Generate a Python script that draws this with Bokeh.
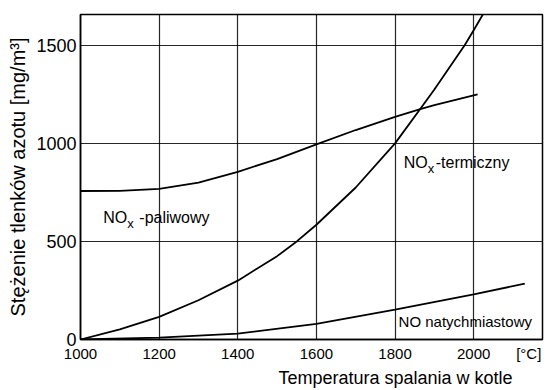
from bokeh.plotting import figure
from bokeh.models import Range1d, FixedTicker, Title
from bokeh.embed import file_html
from bokeh.resources import INLINE
from bokeh.core.properties import value

# ---- data ----
temp_thermal = [1000, 1100, 1200, 1300, 1400, 1500, 1550, 1600, 1700, 1800, 1864, 1900, 1977, 2000, 2030]
nox_thermal = [0, 52, 115, 200, 300, 425, 500, 585, 775, 1000, 1175, 1275, 1500, 1577, 1680]

temp_fuel = [1000, 1100, 1200, 1300, 1400, 1500, 1600, 1700, 1800, 1864, 1900, 2010]
nox_fuel = [757, 758, 768, 800, 855, 920, 995, 1068, 1135, 1175, 1195, 1250]

temp_prompt = [1000, 1200, 1400, 1600, 1800, 2000, 2130]
no_prompt = [0, 10, 30, 80, 152, 230, 285]

x_ticks = [1000, 1200, 1400, 1600, 1800, 2000]
y_ticks = [0, 500, 1000, 1500]
unit_tick = 2140
x_title = "Temperatura spalania w kotle"
x_unit = "[°C]"
y_title = "Stężenie tlenków azotu [mg/m³]"

FONT = "Liberation Sans"

p = figure(width=546, height=388, output_backend="svg", toolbar_location=None,
           x_range=Range1d(1000, 2175), y_range=Range1d(0, 1657),
           min_border_left=80, min_border_right=4, min_border_top=14, min_border_bottom=48)
p.background_fill_color = "white"
p.border_fill_color = "white"
p.outline_line_color = "black"
p.outline_line_width = 1.5

for ax in (p.xaxis[0], p.yaxis[0]):
    ax.major_tick_out = 0
    ax.major_tick_in = 0
    ax.minor_tick_out = 0
    ax.minor_tick_in = 0
    ax.axis_line_color = "black"
    ax.axis_line_width = 1.5
    ax.major_label_text_color = "black"
    ax.major_label_text_font = FONT
    ax.axis_label_text_font = FONT
    ax.axis_label_text_font_style = "normal"
    ax.axis_label_text_color = "black"

p.xaxis[0].ticker = FixedTicker(ticks=x_ticks + [unit_tick])
p.xaxis[0].major_label_overrides = {unit_tick: x_unit}
p.yaxis[0].ticker = FixedTicker(ticks=y_ticks)
p.xaxis[0].major_label_text_font_size = "15px"
p.yaxis[0].major_label_text_font_size = "18px"
p.xaxis[0].major_label_standoff = 5
p.yaxis[0].major_label_standoff = 4

p.yaxis[0].axis_label = y_title
p.yaxis[0].axis_label_text_font_size = "20px"
p.yaxis[0].axis_label_standoff = 4

p.xgrid.ticker = FixedTicker(ticks=x_ticks)
p.ygrid.ticker = FixedTicker(ticks=y_ticks)
for g in (p.xgrid[0], p.ygrid[0]):
    g.grid_line_color = "black"
    g.grid_line_alpha = 0.85
    g.grid_line_width = 1.2

p.line(temp_thermal, nox_thermal, line_color="black", line_width=1.8)
p.line(temp_fuel, nox_fuel, line_color="black", line_width=1.8)
p.line(temp_prompt, no_prompt, line_color="black", line_width=1.8)

# curve labels (NO with subscript x)
def nox_label(x, y, rest, rest_offset, size=16):
    p.text(x=[x], y=[y], text=["NO"], text_font=value(FONT), text_font_size=f"{size}px",
           text_baseline="middle", text_align="left", text_color="black")
    p.text(x=[x], y=[y], text=["x"], text_font=value(FONT), text_font_size=f"{size-3}px",
           text_baseline="middle", text_align="left", text_color="black", x_offset=24, y_offset=6)
    p.text(x=[x], y=[y], text=[rest], text_font=value(FONT), text_font_size=f"{size}px",
           text_baseline="middle", text_align="left", text_color="black", x_offset=rest_offset)

nox_label(1822, 900, "-termiczny", 32)
nox_label(1058, 620, "-paliwowy", 36)
p.text(x=[1809], y=[92], text=["NO  natychmiastowy"], text_font=value(FONT), text_font_size="15px",
       text_baseline="middle", text_align="left", text_color="black")

p.add_layout(Title(text=x_title, align="right", offset=30, text_font=FONT,
                   text_font_size="18px", text_font_style="normal", text_color="black",
                   standoff=2), "below")

open("out.html", "w").write(file_html(p, INLINE))
